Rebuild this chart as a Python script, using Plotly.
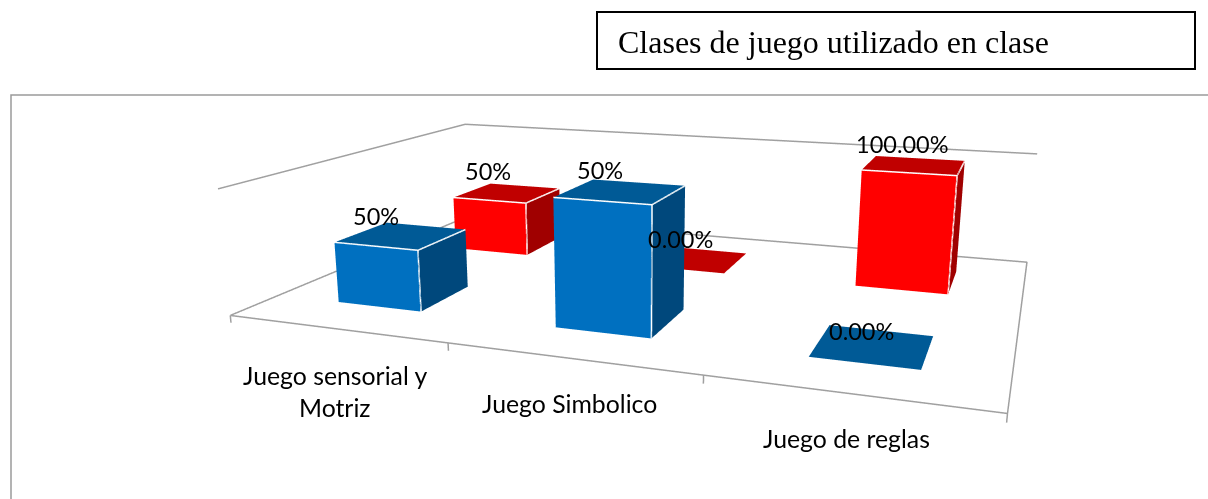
import numpy as np
import plotly.graph_objects as go

categories = ["Juego sensorial y<br>Motriz", "Juego Simbolico", "Juego de reglas"]
blue_values = [0.5, 1.0, 0.0]
red_values = [0.5, 0.0, 1.0]
blue_labels = ["50%", "50%", "0.00%"]
red_labels = ["50%", "0.00%", "100.00%"]

W, H = 1208, 499
f = (H / 2) / np.tan(np.pi / 8)   # focal length of plotly's 45 degree camera, in pixels

# Oblique view of the reference: chart space (category, series row, value) -> page
VIEW = np.array([[184.7169811, 212.8990221, -18.6480988, 230.2894636],
                 [2.1679945, -6.4804412, -131.3320028, 315.4359743],
                 [-0.073795, 0.1999375, -0.0295247, 1.0]])
BAR_W, BAR_D = 0.1985, 0.1975
ROW_FRONT, ROW_BACK = 0.5087, 1.5066
WALL_TOP = 1.0064
TICK = -0.06
AX, AY, AZ = 6.0, 3.0, 4.0
EYE = 3.0
KAPPA = EYE / 1.0648


def T(x, y, z):
    h = VIEW @ np.array([x, y, z, 1.0])
    sy = KAPPA * h[2] - EYE
    sx = KAPPA * (h[0] - W / 2 * h[2]) / f
    sz = -KAPPA * (h[1] - H / 2 * h[2]) / f
    return sx / (AX / 2), sy / (AY / 2), sz / (AZ / 2)


def page(x, y, z):
    h = VIEW @ np.array([x, y, z, 1.0])
    return h[0] / h[2], h[1] / h[2]


FRONT = {"b": "#0070C0", "r": "#FF0000"}
TOP = {"b": "#005A96", "r": "#C00000"}
SIDE = {"b": "#00487C", "r": "#A00000"}
fig = go.Figure()


def box(i, yc, h, k):
    xw = [i + .5 - BAR_W, i + .5 + BAR_W, i + .5 + BAR_W, i + .5 - BAR_W] * 2
    yw = [yc - BAR_D, yc - BAR_D, yc + BAR_D, yc + BAR_D] * 2
    zw = [0] * 4 + [h] * 4
    v = np.array([T(*t) for t in zip(xw, yw, zw)])
    I = [4, 4, 0, 0, 1, 1]
    J = [5, 6, 1, 5, 2, 6]
    K = [6, 7, 5, 4, 6, 5]
    cols = [TOP[k], TOP[k], FRONT[k], FRONT[k], SIDE[k], SIDE[k]]
    fig.add_trace(go.Mesh3d(x=v[:, 0], y=v[:, 1], z=v[:, 2], i=I, j=J, k=K, facecolor=cols,
                            flatshading=True, hoverinfo="skip",
                            lighting=dict(ambient=1, diffuse=0, specular=0, fresnel=0, roughness=1)))
    if h > 0:
        e = [v[4], v[5], v[6], [None] * 3, v[5], v[1]]
        fig.add_trace(go.Scatter3d(x=[t[0] for t in e], y=[t[1] for t in e], z=[t[2] for t in e],
                                   mode="lines", line=dict(color="white", width=3), hoverinfo="skip"))


for i in range(3):
    box(i, ROW_BACK, red_values[i], "r")
    box(i, ROW_FRONT, blue_values[i], "b")

segs = [[(0, 0, 0), (3, 0, 0), (3, 2, 0), (0, 2, 0), (0, 0, 0)],
        [(0, 0, WALL_TOP), (0, 2, WALL_TOP), (3, 2, WALL_TOP)]]
segs += [[(i, 0, 0), (i, 0, TICK)] for i in range(4)]
lx, ly, lz = [], [], []
for s in segs:
    for t in s:
        d = T(*t)
        lx.append(d[0]); ly.append(d[1]); lz.append(d[2])
    lx.append(None); ly.append(None); lz.append(None)
fig.add_trace(go.Scatter3d(x=lx, y=ly, z=lz, mode="lines", line=dict(color="#A0A0A0", width=3), hoverinfo="skip"))

label_centres = [(376, 216), (600, 170), (862, 331), (488, 171), (681, 239), (902, 144)]
labelled = [(i, ROW_FRONT, blue_values[i], blue_labels[i]) for i in range(3)] + \
           [(i, ROW_BACK, red_values[i], red_labels[i]) for i in range(3)]
ann = []
for (i, y, h, t), (tu, tv) in zip(labelled, label_centres):
    d = T(i + .5, y, h)
    u, v = page(i + .5, y, h)
    ann.append(dict(x=d[0], y=d[1], z=d[2], text=t, showarrow=False, xanchor="center", yanchor="middle",
                    xshift=round(tu - u), yshift=round(v - tv),
                    font=dict(family="Lato", size=23.5, color="black")))


def px(x):
    return x / W


def py(y):
    return 1 - y / H


shapes = [dict(type="rect", xref="paper", yref="paper", x0=px(597), x1=px(1195), y0=py(69), y1=py(12),
               line=dict(color="black", width=2)),
          dict(type="path", xref="paper", yref="paper",
               path=f"M {px(11)} 0 L {px(11)} {py(95)} L 1 {py(95)}", line=dict(color="#9A9A9A", width=1.5))]
annots = [dict(text="Clases de juego utilizado en clase", x=px(616), y=py(42), xref="paper", yref="paper",
               xanchor="left", yanchor="middle", showarrow=False,
               font=dict(family="Liberation Serif", size=32, color="black"))]
catpos = [(335, [375, 407]), (569, [403]), (846, [438])]
for c, (cx, ys) in zip(categories, catpos):
    for line, yy in zip(c.split("<br>"), ys):
        annots.append(dict(text=line, x=px(cx), y=py(yy), xref="paper", yref="paper", xanchor="center",
                           yanchor="middle", showarrow=False, font=dict(family="Lato", size=24.8, color="black")))

fig.update_layout(width=W, height=H, margin=dict(l=0, r=0, t=0, b=0), showlegend=False, paper_bgcolor="white",
                  shapes=shapes, annotations=annots,
                  scene=dict(domain=dict(x=[0, 1], y=[0, 1]), aspectmode="manual",
                             aspectratio=dict(x=AX, y=AY, z=AZ), dragmode="orbit", annotations=ann,
                             xaxis=dict(visible=False, range=[-1, 1]), yaxis=dict(visible=False, range=[-1, 1]),
                             zaxis=dict(visible=False, range=[-1, 1]),
                             camera=dict(eye=dict(x=0, y=-EYE, z=0), center=dict(x=0, y=0, z=0), up=dict(x=0, y=0, z=1))))
fig.write_html("out.html", config=dict(displayModeBar=False),
               post_script="document.body.style.margin='0';document.body.style.overflow='hidden';")
